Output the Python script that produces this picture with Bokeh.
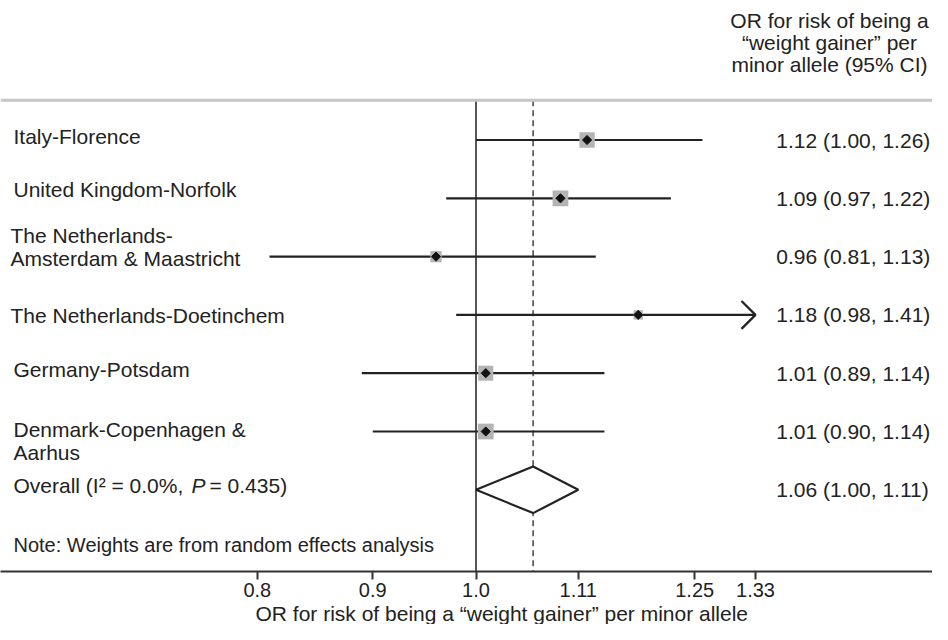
import math
from bokeh.plotting import figure
from bokeh.models import Range1d, FixedTicker, Span, Title, ColumnDataSource
from bokeh.core.properties import value
from bokeh.embed import file_html
from bokeh.resources import INLINE

# ---------------- data ----------------
studies = ["Italy-Florence", "United Kingdom-Norfolk",
           "The Netherlands-\nAmsterdam & Maastricht",
           "The Netherlands-Doetinchem", "Germany-Potsdam",
           "Denmark-Copenhagen &\nAarhus"]
odds_ratio = [1.12, 1.09, 0.96, 1.18, 1.01, 1.01]
ci_low = [1.00, 0.97, 0.81, 0.98, 0.89, 0.90]
ci_high = [1.26, 1.22, 1.13, 1.41, 1.14, 1.14]
weights = [20.1, 21.1, 11.0, 7.4, 19.3, 21.1]   # estimated % weights

overall_or = 1.06
overall_low = 1.00
overall_high = 1.11
overall_i2 = 0.0
overall_p = 0.435

tick_values = [0.8, 0.9, 1.0, 1.11, 1.25, 1.33]
tick_labels = ["0.8", "0.9", "1.0", "1.11", "1.25", "1.33"]

header_text = "OR for risk of being a\n\u201cweight gainer\u201d per\nminor allele (95% CI)"
axis_title = "OR for risk of being a \u201cweight gainer\u201d per minor allele"
note_text = "Note: Weights are from random effects analysis"

# ---------------- layout ----------------
FONT = "Liberation Sans"
TXT = "#222222"
X_START, X_END = 0.61557, 1.5933
Y_TOP, Y_BOTTOM = 2.3932, -7.4017
ROW_STEP = 1.0
rows = [-i * ROW_STEP for i in range(len(studies))]
overall_row = -len(studies) * ROW_STEP
gray_line_y = 0.684
header_y = 1.67
note_y = -6.952
label_y_offsets = [-4, -9, -10, 1, -4, 9.5]
label_x_offsets = [13, 13, 10, 10, 13, 13]
x_max_shown = tick_values[-1]

p = figure(width=932, height=624, x_axis_type="log",
           x_range=Range1d(X_START, X_END), y_range=Range1d(Y_BOTTOM, Y_TOP),
           y_axis_location=None, output_backend="svg", toolbar_location=None,
           min_border=0, outline_line_color=None)
p.grid.visible = False

ax = p.xaxis[0]
ax.ticker = FixedTicker(ticks=tick_values, minor_ticks=[])
ax.major_label_overrides = {v: s for v, s in zip(tick_values, tick_labels)}
ax.axis_line_width = 2
ax.axis_line_color = "#333333"
ax.major_tick_out = 8
ax.major_tick_in = 0
ax.major_tick_line_width = 2
ax.major_tick_line_color = "#333333"
ax.minor_tick_line_color = None
ax.major_label_text_font = FONT
ax.major_label_text_font_size = "20px"
ax.major_label_text_color = TXT
ax.major_label_standoff = 3

p.add_layout(Title(text=axis_title, align="left", offset=255,
                   text_font=FONT, text_font_size="21px",
                   text_font_style="normal", text_color=TXT, standoff=0),
             "below")

# top gray rule
p.add_layout(Span(location=gray_line_y, dimension="width",
                  line_color="#c6c6c6", line_width=3))

# null line and overall dashed line
p.segment(x0=[1.0], x1=[1.0], y0=[gray_line_y], y1=[Y_BOTTOM],
          line_color="#444444", line_width=1.8)
p.segment(x0=[overall_or], x1=[overall_or], y0=[gray_line_y], y1=[Y_BOTTOM],
          line_color="#444444", line_width=1.5, line_dash="6 4")

# CI lines
hi_drawn = [min(h, x_max_shown) for h in ci_high]
p.segment(x0=ci_low, x1=hi_drawn, y0=rows, y1=rows,
          line_color="#222222", line_width=2.2)

# arrows for truncated CIs
arrow_depth = math.exp(14 / 980.0)
for h, r in zip(ci_high, rows):
    if h > x_max_shown:
        p.line(x=[x_max_shown / arrow_depth, x_max_shown, x_max_shown / arrow_depth],
               y=[r + 0.24, r, r - 0.24], line_color="#222222", line_width=2.2)

# weight squares
sizes = [3.42 * math.sqrt(w) for w in weights]
p.scatter(x=odds_ratio, y=rows, size=sizes, marker="square",
          fill_color="#b4b4b4", line_color=None)
p.scatter(x=odds_ratio, y=rows, size=6.5, marker="square", angle=math.pi / 4,
          fill_color="#111111", line_color="#111111")

# overall diamond
h = 0.4
p.patch(x=[overall_low, overall_or, overall_high, overall_or],
        y=[overall_row, overall_row + h, overall_row, overall_row - h],
        fill_color="white", line_color="#222222", line_width=2.2)

# left labels
src = ColumnDataSource(dict(x=[X_START] * len(studies), y=rows, text=studies,
                            yo=label_y_offsets, xo=label_x_offsets))
p.text(x="x", y="y", text="text", y_offset="yo", x_offset="xo", source=src,
       text_font=value(FONT), text_font_size="21px", text_color=TXT,
       text_baseline="middle", text_align="left", text_line_height=1.0)

# overall label pieces
p.text(x=[X_START], y=[overall_row], text=["Overall (I\u00b2 = %.1f%%," % overall_i2],
       x_offset=13, y_offset=-4, text_font=value(FONT), text_font_size="21px",
       text_color=TXT, text_baseline="middle", text_align="left")
p.text(x=[X_START], y=[overall_row], text=["P"],
       x_offset=191, y_offset=-4, text_font=value(FONT), text_font_size="21px",
       text_font_style="italic", text_color=TXT, text_baseline="middle", text_align="left")
p.text(x=[X_START], y=[overall_row], text=["= %.3f)" % overall_p],
       x_offset=209, y_offset=-4, text_font=value(FONT), text_font_size="21px",
       text_color=TXT, text_baseline="middle", text_align="left")

# note
p.text(x=[X_START], y=[note_y], text=[note_text], x_offset=13,
       text_font=value(FONT), text_font_size="20px", text_color=TXT,
       text_baseline="middle", text_align="left")

# value column
vals = ["%.2f (%.2f, %.2f)" % (o, l, u) for o, l, u in zip(odds_ratio, ci_low, ci_high)]
vals.append("%.2f (%.2f, %.2f)" % (overall_or, overall_low, overall_high))
p.text(x=[X_START] * len(vals), y=rows + [overall_row], text=vals, x_offset=775.7,
       text_font=value(FONT), text_font_size="21px", text_color=TXT,
       text_baseline="middle", text_align="left")

# header
p.text(x=[X_START], y=[header_y], text=[header_text], x_offset=829,
       text_font=value(FONT), text_font_size="21px", text_color=TXT,
       text_baseline="middle", text_align="center", text_line_height=0.95)

open("out.html", "w").write(file_html(p, INLINE))
